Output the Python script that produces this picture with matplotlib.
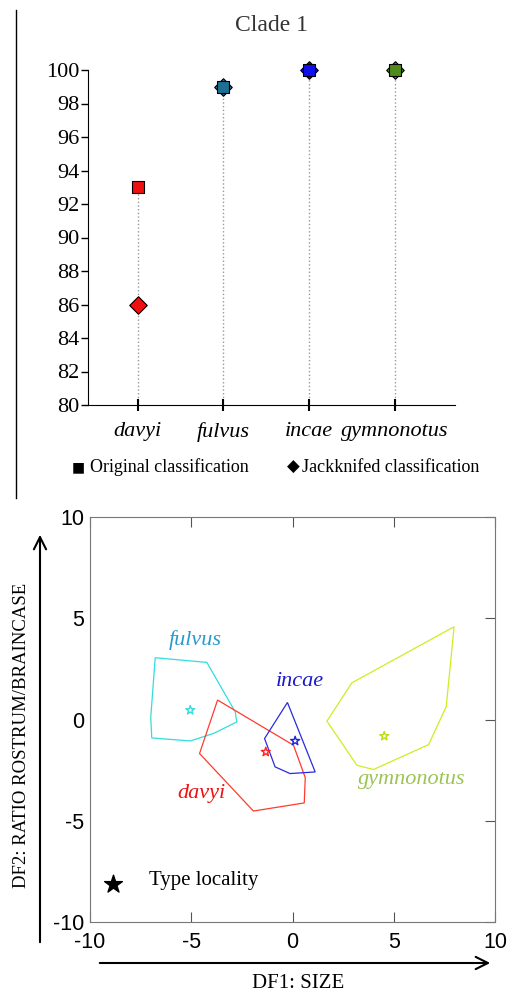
import matplotlib.pyplot as plt
from matplotlib.lines import Line2D
import numpy as np

# top panel: classification success (%)
species = ['davyi', 'fulvus', 'incae', 'gymnonotus']
original = [93, 99, 100, 100]
jackknifed = [86, 99, 100, 100]
sp_colors = ['#ee1111', '#1d6f94', '#1010ee', '#4e8a1c']

# bottom panel: DFA polygons (DF1, DF2)
fulvus_x = [-6.78, -4.23, -2.83, -2.75, -3.9, -5.05, -6.95, -7.0]
fulvus_y = [3.05, 2.82, 0.38, -0.12, -0.69, -1.06, -0.91, 0.1]
davyi_x = [-3.70, 0.05, 0.63, 0.58, -1.93, -4.59]
davyi_y = [0.96, -1.27, -2.87, -4.12, -4.52, -1.68]
incae_x = [-0.25, 1.12, -0.12, -0.86, -1.38]
incae_y = [0.84, -2.59, -2.67, -2.34, -0.94]
gymno_x = [1.70, 2.93, 7.98, 7.59, 6.72, 4.00, 3.18]
gymno_y = [-0.08, 1.81, 4.58, 0.63, -1.24, -2.47, -2.26]
type_x = [-5.05, -1.32, 0.13, 4.53]
type_y = [0.46, -1.60, -1.06, -0.82]

serif = 'Liberation Serif'
sans = 'Liberation Sans'

fig = plt.figure(figsize=(5.12, 9.93), dpi=100)

# ---------- top panel ----------
ax1 = fig.add_axes([88/512, 1 - 405/993, (455-88)/512, (405-70)/993])
x = np.arange(len(species))
for i in range(len(species)):
    ax1.plot([x[i], x[i]], [80, max(original[i], jackknifed[i])], ls=':', color='#999999', lw=1, zorder=1)
    ax1.scatter(x[i], jackknifed[i], marker='D', s=80, color=sp_colors[i], edgecolor='black', lw=0.8, zorder=3, clip_on=False)
    ax1.scatter(x[i], original[i], marker='s', s=75, color=sp_colors[i], edgecolor='black', lw=0.8, zorder=3, clip_on=False)
ax1.set_xlim(-0.58, 3.7)
ax1.set_ylim(80, 100)
ax1.set_yticks(range(80, 101, 2))
ax1.set_xticks(x)
ax1.set_xticklabels(species, fontstyle='italic', fontfamily=serif, fontsize=16)
for lab in ax1.get_yticklabels():
    lab.set_fontfamily(serif)
    lab.set_fontsize(16)
ax1.spines['top'].set_visible(False)
ax1.spines['right'].set_visible(False)
ax1.tick_params(axis='x', direction='inout', length=8, width=1.5, pad=8)
ax1.tick_params(axis='y', direction='out', length=5, width=1, pad=1)
ax1.set_title('Clade 1', fontfamily=serif, fontsize=17, pad=28, color='#333333')

fig.text(78/512, 1 - 467/993, '■', fontsize=10, va='center', ha='center', family='DejaVu Sans')
fig.text(90/512, 1 - 467/993, 'Original classification', fontsize=13, va='center', family=serif)
fig.text(293/512, 1 - 467/993, '◆', fontsize=12, va='center', ha='center', family='DejaVu Sans')
fig.text(302/512, 1 - 467/993, 'Jackknifed classification', fontsize=13, va='center', family=serif)

fig.add_artist(Line2D([16/512, 16/512], [1 - 10/993, 1 - 498/993], color='black', lw=1))

# ---------- bottom panel ----------
ax2 = fig.add_axes([90/512, 1 - 922/993, (495-90)/512, (922-517)/993])
polys = [(fulvus_x, fulvus_y, '#33dddd'), (davyi_x, davyi_y, '#ff3b2f'),
         (incae_x, incae_y, '#2b2bdd'), (gymno_x, gymno_y, '#ccee22')]
for px, py, c in polys:
    ax2.fill(px, py, fill=False, edgecolor=c, lw=0.9)
star_colors = ['#33dddd', '#ff2222', '#2222dd', '#bbdd11']
for i in range(len(type_x)):
    ax2.scatter(type_x[i], type_y[i], marker='*', s=45, facecolor='none', edgecolor=star_colors[i], lw=1)
lab_kw = dict(fontstyle='italic', fontfamily=serif, fontsize=16, ha='center', va='center')
ax2.text(-4.8, 3.9, 'fulvus', color='#2a9ccc', **lab_kw)
ax2.text(0.38, 1.9, 'incae', color='#1a1acc', **lab_kw)
ax2.text(-4.48, -3.66, 'davyi', color='#ee1111', **lab_kw)
ax2.text(5.9, -2.97, 'gymnonotus', color='#9cc455', **lab_kw)
ax2.scatter([-8.84], [-8.1], marker='*', s=180, color='black')
ax2.text(-7.11, -7.95, 'Type locality', fontfamily=serif, fontsize=15, va='center')

ax2.set_xlim(-10, 10)
ax2.set_ylim(-10, 10)
ax2.set_xticks([-10, -5, 0, 5, 10])
ax2.set_yticks([-10, -5, 0, 5, 10])
ax2.set_xticklabels(['-10', '-5', '0', '5', '10'])
ax2.set_yticklabels(['-10', '-5', '0', '5', '10'])
for lab in ax2.get_xticklabels() + ax2.get_yticklabels():
    lab.set_fontfamily(sans)
    lab.set_fontsize(15.5)
for s in ax2.spines.values():
    s.set_color('#777777')
ax2.tick_params(direction='in', length=7, color='#555555', top=True, right=True, pad=4)
ax2.tick_params(axis='x', pad=7)
ax2.tick_params(axis='y', left=False)

# axis arrows
ax2.annotate('', xy=(40/512, 1 - 532/993), xytext=(40/512, 1 - 945/993), xycoords='figure fraction',
             arrowprops=dict(arrowstyle='->', lw=1.5, color='black', mutation_scale=22))
ax2.annotate('', xy=(493/512, 1 - 963/993), xytext=(97/512, 1 - 963/993), xycoords='figure fraction',
             arrowprops=dict(arrowstyle='->', lw=1.5, color='black', mutation_scale=22))
fig.text(22/512, 1 - 735/993, 'DF2: RATIO ROSTRUM/BRAINCASE', rotation=90, ha='center', va='center', family=serif, fontsize=13.5)
fig.text(298/512, 1 - 984/993, 'DF1: SIZE', ha='center', va='center', family=serif, fontsize=15)

fig.savefig('out.png', dpi=100)
